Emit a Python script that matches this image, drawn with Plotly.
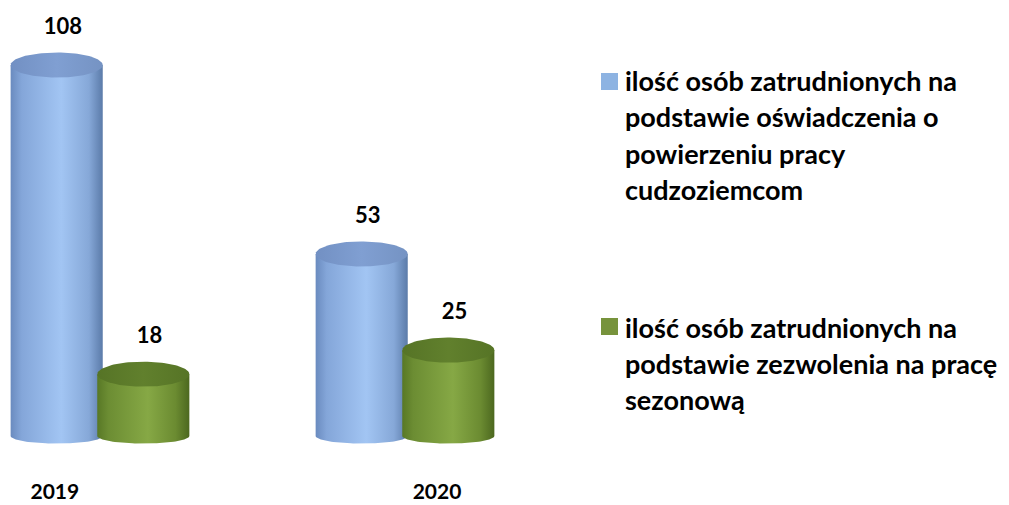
import numpy as np
import plotly.graph_objects as go

# ---------------- data ----------------
years = ["2019", "2020"]
series_names = [
    "ilość osób zatrudnionych na podstawie oświadczenia o powierzeniu pracy cudzoziemcom",
    "ilość osób zatrudnionych na podstawie zezwolenia na pracę sezonową",
]
oswiadczenia = [108, 53]
sezonowe = [18, 25]
legend_lines = [
    ["ilość osób zatrudnionych na", "podstawie oświadczenia o", "powierzeniu pracy", "cudzoziemcom"],
    ["ilość osób zatrudnionych na", "podstawie zezwolenia na pracę", "sezonową"],
]

# ---------------- styling ----------------
W, H = 1009, 505
MB = 35  # bottom margin
PLOT_H = H - MB
FONT = "Lato"
BAR_OFF = 0.142
HALF_W = 0.151
CAP_B = 3.65
BASE_B = 2.2
LABEL_GAP = 10.6
X_RANGE = [-100 / 305, (W - 100) / 305]
Y_RANGE = [(436 - PLOT_H) / 3.435, 436 / 3.435]
TICK_SHIFT = [-0.148, 1.105]

body_scales = [
    [[0, "#6a8bbf"], [0.12, "#84a6d9"], [0.55, "#a2c5f3"], [0.85, "#86a8d8"], [1, "#5b7ba9"]],
    [[0, "#587826"], [0.12, "#6c8d33"], [0.55, "#86a845"], [0.85, "#6b8b31"], [1, "#4c681f"]],
]
cap_scales = [
    [[0, "#7290c3"], [0.5, "#809fd2"], [1, "#7593c3"]],
    [[0, "#567426"], [0.5, "#61802d"], [1, "#567426"]],
]
legend_colors = ["#8db3e2", "#77933c"]

fig = go.Figure()


def cylinder(cx, v, k):
    a = HALF_W
    t = np.linspace(0, np.pi, 60)
    bx = cx + a * np.cos(t)
    by = -BASE_B * np.sin(t)
    xs = np.concatenate([[cx - a, cx + a, cx + a], bx, [cx - a, cx - a]])
    ys = np.concatenate([[v, v, 0], by, [0, v]])
    fig.add_trace(go.Scatter(
        x=xs, y=ys, mode="lines", fill="toself", line=dict(width=0),
        fillgradient=dict(type="horizontal", colorscale=body_scales[k]),
        hoverinfo="skip", showlegend=False, name=series_names[k]))
    tt = np.linspace(0, 2 * np.pi, 120)
    fig.add_trace(go.Scatter(
        x=cx + a * np.cos(tt), y=v + CAP_B * np.sin(tt), mode="lines", fill="toself",
        line=dict(width=0),
        fillgradient=dict(type="horizontal", colorscale=cap_scales[k]),
        hoverinfo="skip", showlegend=False, name=series_names[k]))


for i in range(len(years)):
    cylinder(i - BAR_OFF, oswiadczenia[i], 0)
    cylinder(i + BAR_OFF, sezonowe[i], 1)

# value labels
lx, ly, lt = [], [], []
for i in range(len(years)):
    for off, vals in ((-BAR_OFF, oswiadczenia), (BAR_OFF, sezonowe)):
        lx.append(i + off + 0.02)
        ly.append(vals[i] + LABEL_GAP)
        lt.append(str(vals[i]))
fig.add_trace(go.Scatter(
    x=lx, y=ly, text=lt, mode="text", textposition="middle center",
    textfont=dict(family=FONT, size=22, color="black", weight="bold"),
    hoverinfo="skip", showlegend=False))

# manual legend
def px2x(p):
    return p / W


def px2y(p):
    return (PLOT_H - p) / PLOT_H


square_tops = [73, 318]
line_centers = [[80, 117, 153, 189], [327, 363, 399]]
for k in range(2):
    fig.add_shape(type="rect", xref="paper", yref="paper",
                  x0=px2x(601), x1=px2x(618), y0=px2y(square_tops[k] + 17), y1=px2y(square_tops[k]),
                  fillcolor=legend_colors[k], line=dict(width=0))
    for j, line in enumerate(legend_lines[k]):
        fig.add_annotation(xref="paper", yref="paper", x=px2x(623), y=px2y(line_centers[k][j]),
                           text=line, showarrow=False, xanchor="left", yanchor="middle",
                           font=dict(family=FONT, size=27, color="black", weight="bold"))

fig.update_layout(
    width=W, height=H,
    margin=dict(l=0, r=0, t=0, b=MB),
    plot_bgcolor="white", paper_bgcolor="white",
    xaxis=dict(range=X_RANGE, showgrid=False, zeroline=False, showline=False,
               tickvals=TICK_SHIFT, ticktext=years, ticks="", ticklabelstandoff=7,
               tickfont=dict(family=FONT, size=21, color="black", weight="bold"),
               fixedrange=True),
    yaxis=dict(range=Y_RANGE, visible=False, fixedrange=True),
    showlegend=False,
)

fig.write_html("out.html", config={"displayModeBar": False},
               post_script="document.body.style.margin='0';")
